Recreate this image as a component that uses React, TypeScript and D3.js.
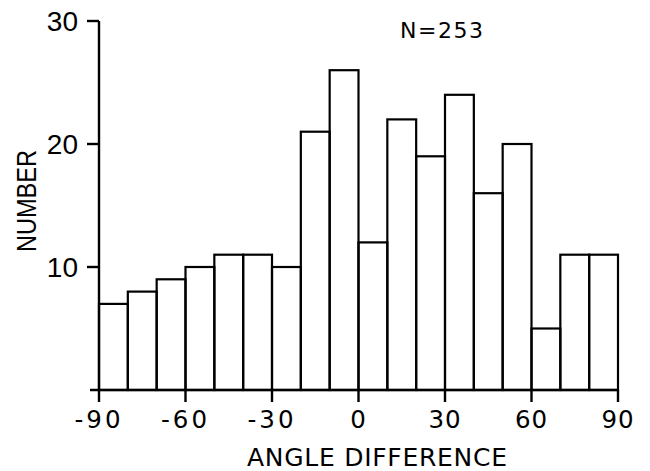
import React from "react";
import * as d3 from "d3";

// histogram of angle differences, 10 degree bins
const binStarts = [-90, -80, -70, -60, -50, -40, -30, -20, -10, 0, 10, 20, 30, 40, 50, 60, 70, 80];
const counts = [7, 8, 9, 10, 11, 11, 10, 21, 26, 12, 22, 19, 24, 16, 20, 5, 11, 11];
const xTicks = [-90, -60, -30, 0, 30, 60, 90];
const yTicks = [10, 20, 30];
const binWidth = 10;

export default function App() {
  const width = 650,
    height = 471;
  const x = d3.scaleLinear().domain([-90, 90]).range([99, 618]);
  const y = d3.scaleLinear().domain([0, 30]).range([390, 21]);
  const sans = "'Liberation Sans', Arial, sans-serif";
  const wide = "'DejaVu Sans', sans-serif";

  return (
    <svg
      width={width}
      height={height}
      style={{ position: "absolute", left: 0, top: 0, background: "#fff" }}
    >
      <g fill="none" stroke="#000" strokeWidth={2.2}>
        {binStarts.map((b, i) => (
          <rect
            key={b}
            x={x(b)}
            y={y(counts[i])}
            width={x(b + binWidth) - x(b)}
            height={y(0) - y(counts[i])}
          />
        ))}
      </g>

      {/* axes */}
      <g stroke="#000" strokeWidth={2.4}>
        <line x1={x(-90)} x2={x(-90)} y1={y(30)} y2={y(0)} />
        <line x1={x(-90) - 9} x2={x(90)} y1={y(0)} y2={y(0)} />
        {yTicks.map((t) => (
          <line key={t} x1={x(-90) - 12} x2={x(-90)} y1={y(t)} y2={y(t)} />
        ))}
        {xTicks.map((t) => (
          <line key={t} x1={x(t)} x2={x(t)} y1={y(0)} y2={y(0) + 12} />
        ))}
      </g>

      <g fill="#000">
        {yTicks.map((t) => (
          <text
            key={t}
            x={x(-90) - 21}
            y={y(t)}
            dy="0.36em"
            textAnchor="end"
            fontFamily={sans}
            fontSize={28}
          >
            {t}
          </text>
        ))}
        {xTicks.map((t) => (
          <text
            key={t}
            x={x(t)}
            y={428}
            textAnchor="middle"
            fontFamily={wide}
            fontSize={24.5}
            letterSpacing={t < 0 ? 3 : 1}
          >
            {t < 0 ? "-" + Math.abs(t) : t}
          </text>
        ))}
        <text
          x={247}
          y={466}
          fontFamily={wide}
          fontSize={25}
          textLength={260}
          lengthAdjust="spacing"
        >
          ANGLE DIFFERENCE
        </text>
        <text
          transform={`translate(36, 252) rotate(-90)`}
          fontFamily={sans}
          fontSize={27.5}
          textLength={102}
          lengthAdjust="spacingAndGlyphs"
        >
          NUMBER
        </text>
        <text
          x={400}
          y={38}
          fontFamily={wide}
          fontSize={22}
          textLength={83}
          lengthAdjust="spacing"
        >
          N=253
        </text>
      </g>
    </svg>
  );
}
